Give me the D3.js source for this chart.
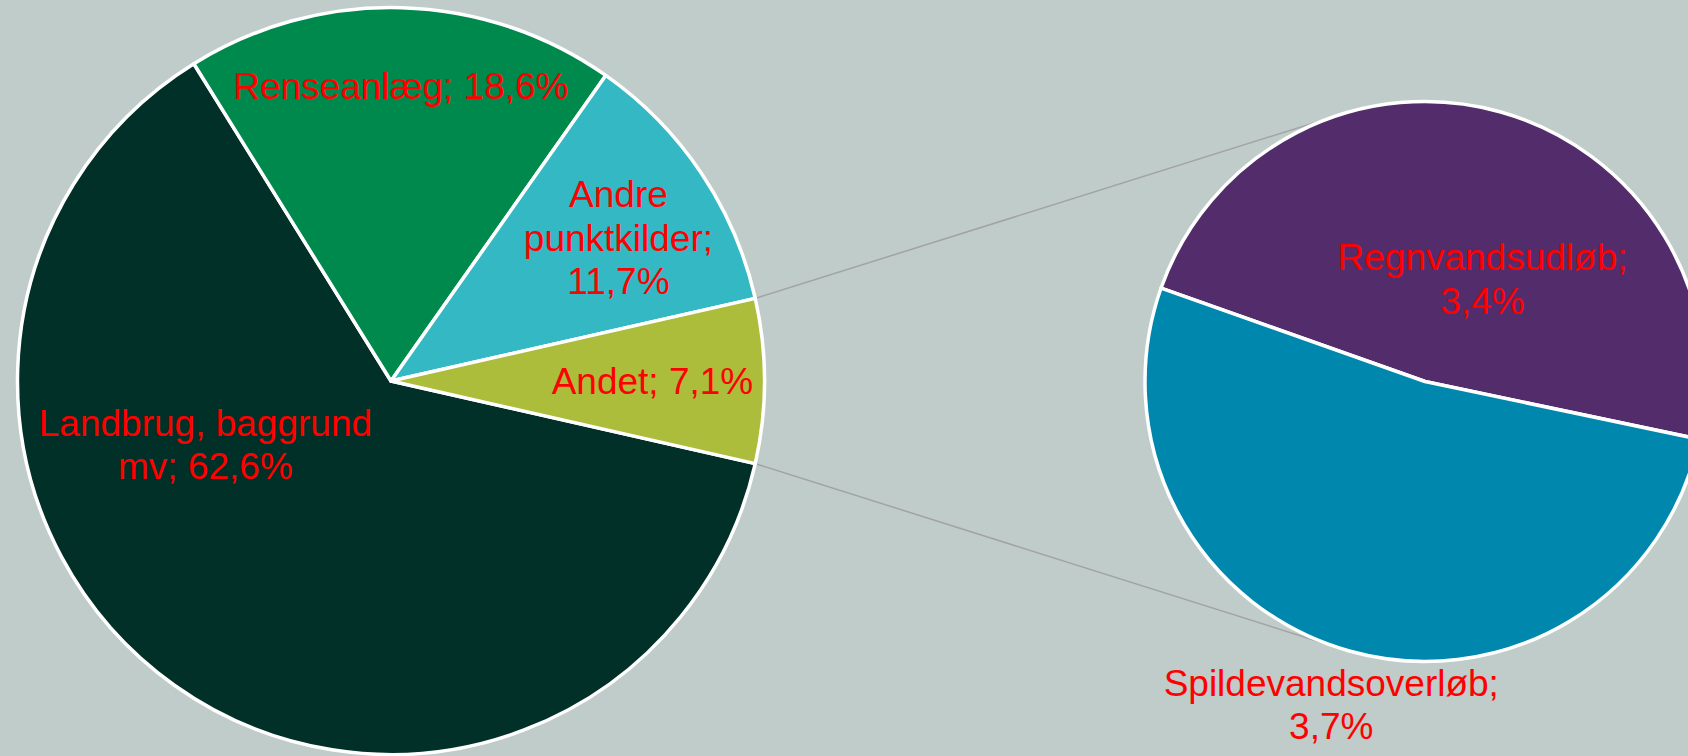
<!DOCTYPE html>
<html>
<head>
<meta charset="utf-8">
<script src="https://cdn.jsdelivr.net/npm/d3@7"></script>
<style>
  body { margin: 0; background: #bfccc9; }
  svg { display: block; }
</style>
</head>
<body>
<script>
var width = 1688;
var height = 756;

// main pie
var mainNames = ["Landbrug, baggrund mv", "Renseanlæg", "Andre punktkilder", "Andet"];
var mainValues = [62.6, 18.6, 11.7, 7.1];
var mainColors = ["#003027", "#00894c", "#34b8c4", "#abbd3a"];

// the "Andet" slice split into
var subNames = ["Regnvandsudløb", "Spildevandsoverløb"];
var subValues = [3.4, 3.7];
var subColors = ["#532d6b", "#0087ae"];

// label placement: radius factor, angle shift (deg), wrap width
var mainLabelLayout = [[0.525, 35.7, 340], [0.79, 0.3, 345], [0.72, 1.6, 200], [0.70, 0, 300]];
var subLabelLayout = [[0.42, 13.6, 300], [1.2, 0.5, 340]];

var main = { cx: 391, cy: 381, r: 373.5 };
var sub = { cx: 1425, cy: 381.5, r: 280 };

var rad = Math.PI / 180;
var fmt = function(v) { return d3.format(".1f")(v).replace(".", ",") + "%"; };

var svg = d3.select("body").append("svg")
    .attr("width", width)
    .attr("height", height);

svg.append("rect")
    .attr("width", width)
    .attr("height", height)
    .attr("fill", "#bfccc9");

// Andet is centred on the right (90deg)
var andetHalf = mainValues[3] / d3.sum(mainValues) * 360 / 2;
var mainStart = (90 + andetHalf) * rad;

var mainPie = d3.pie().sort(null).value(function(d) { return d; })
    .startAngle(mainStart).endAngle(mainStart + 2 * Math.PI);
var subStart = -70.5 * rad;
var subPie = d3.pie().sort(null).value(function(d) { return d; })
    .startAngle(subStart).endAngle(subStart + 2 * Math.PI);

var mainArcs = mainPie(mainValues);
var subArcs = subPie(subValues);

// connector lines: tangents from Andet slice edges to the secondary pie
var andet = mainArcs[3];
function edgePoint(a) {
  return [main.cx + main.r * Math.sin(a), main.cy - main.r * Math.cos(a)];
}
function tangent(p, sign) {
  var dx = sub.cx - p[0], dy = sub.cy - p[1];
  var d = Math.sqrt(dx * dx + dy * dy);
  var th = Math.atan2(dy, dx) + sign * Math.asin(sub.r / d);
  var len = Math.sqrt(d * d - sub.r * sub.r);
  return [p[0] + len * Math.cos(th), p[1] + len * Math.sin(th)];
}
var pTop = edgePoint(andet.startAngle);
var pBot = edgePoint(andet.endAngle);
var connectors = [[pTop, tangent(pTop, -1)], [pBot, tangent(pBot, 1)]];

svg.selectAll(".connector")
  .data(connectors)
  .enter()
  .append("line")
  .attr("class", "connector")
  .attr("x1", function(d) { return d[0][0]; })
  .attr("y1", function(d) { return d[0][1]; })
  .attr("x2", function(d) { return d[1][0]; })
  .attr("y2", function(d) { return d[1][1]; })
  .attr("stroke", "#a3a3a3")
  .attr("stroke-width", 1.5);

function drawPie(arcs, cfg, colors) {
  var arc = d3.arc().innerRadius(0).outerRadius(cfg.r);
  svg.append("g")
    .attr("transform", "translate(" + cfg.cx + "," + cfg.cy + ")")
    .selectAll("path")
    .data(arcs)
    .enter()
    .append("path")
    .attr("d", arc)
    .attr("fill", function(d, i) { return colors[i]; })
    .attr("stroke", "#ffffff")
    .attr("stroke-width", 3.5)
    .attr("stroke-linejoin", "round");
}
drawPie(mainArcs, main, mainColors);
drawPie(subArcs, sub, subColors);

var fontSize = 37;
var lineH = 43.5;

function drawLabels(arcs, cfg, names, values, layout) {
  arcs.forEach(function(a, i) {
    var lay = layout[i];
    var ang = (a.startAngle + a.endAngle) / 2 + lay[1] * rad;
    var x = cfg.cx + cfg.r * lay[0] * Math.sin(ang);
    var y = cfg.cy - cfg.r * lay[0] * Math.cos(ang);
    var words = (names[i] + "; " + fmt(values[i])).split(" ");

    var t = svg.append("text")
      .attr("text-anchor", "middle")
      .attr("font-family", "'Liberation Sans', Arial, sans-serif")
      .attr("font-size", fontSize)
      .attr("fill", "#ff0000");

    // greedy wrap
    var lines = [];
    var cur = "";
    var probe = t.append("tspan");
    words.forEach(function(w) {
      var test = cur ? cur + " " + w : w;
      probe.text(test);
      if (cur && probe.node().getComputedTextLength() > lay[2]) {
        lines.push(cur);
        cur = w;
      } else {
        cur = test;
      }
    });
    lines.push(cur);
    probe.remove();

    var y0 = y - (lines.length - 1) * lineH / 2 + fontSize * 0.355;
    lines.forEach(function(l, k) {
      t.append("tspan")
        .attr("x", x)
        .attr("y", y0 + k * lineH)
        .text(l);
    });
  });
}
drawLabels(mainArcs, main, mainNames, mainValues, mainLabelLayout);
drawLabels(subArcs, sub, subNames, subValues, subLabelLayout);
</script>
</body>
</html>
